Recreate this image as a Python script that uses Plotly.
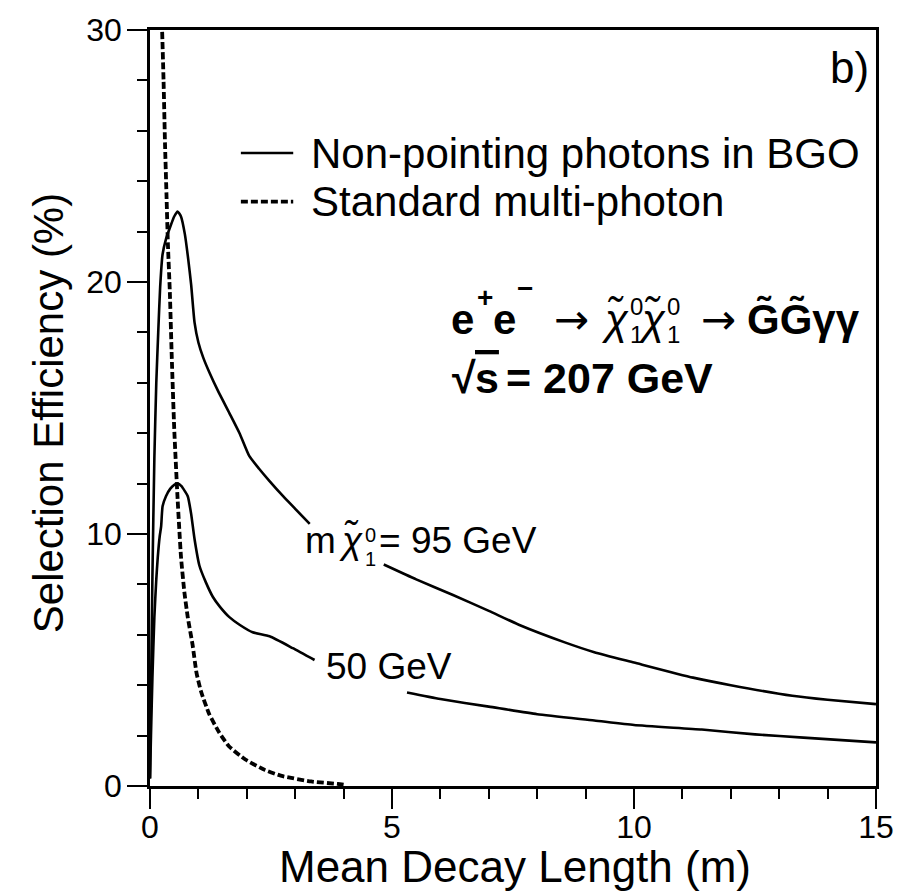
import plotly.graph_objects as go

# Mean decay length (m) vs. selection efficiency (%)
# Non-pointing photons in BGO, m(chi) = 95 GeV (split around its label)
x_95_a = [0.0, 0.02, 0.05, 0.09, 0.13, 0.17, 0.21, 0.26, 0.33, 0.42, 0.50, 0.57, 0.64,
          0.72, 0.79, 0.85, 0.92, 1.00, 1.10, 1.23, 1.40, 1.64, 1.85, 2.05, 2.25, 2.47,
          2.75, 3.00, 3.30]
eff_95_a = [0.3, 3.6, 8.3, 13.0, 16.0, 18.0, 19.8, 21.1, 21.7, 22.2, 22.6, 22.8, 22.6,
            21.9, 20.9, 19.9, 18.4, 17.6, 17.0, 16.4, 15.7, 14.8, 14.0, 13.1, 12.6, 12.1,
            11.5, 11.0, 10.4]
x_95_b = [4.83, 5.5, 6.26, 7.0, 7.62, 8.57, 9.18, 10.0, 11.22, 12.0, 13.27, 14.0, 15.0]
eff_95_b = [8.79, 8.2, 7.58, 6.95, 6.4, 5.7, 5.31, 4.9, 4.3, 4.0, 3.58, 3.42, 3.25]

# Non-pointing photons in BGO, m(chi) = 50 GeV
x_50_a = [0.0, 0.02, 0.05, 0.09, 0.13, 0.16, 0.20, 0.23, 0.26, 0.33, 0.42, 0.50, 0.57,
          0.65, 0.72, 0.78, 0.85, 0.92, 1.02, 1.15, 1.30, 1.45, 1.64, 1.85, 2.12, 2.47,
          2.95, 3.40]
eff_50_a = [0.3, 2.0, 4.3, 6.7, 8.2, 9.06, 9.9, 10.3, 11.1, 11.5, 11.8, 11.95, 12.0,
            11.9, 11.7, 11.5, 10.8, 9.8, 8.75, 8.1, 7.5, 7.1, 6.7, 6.4, 6.1, 5.94,
            5.47, 5.0]
x_50_b = [5.31, 6.0, 7.0, 8.0, 9.18, 10.0, 11.4, 12.5, 13.5, 15.0]
eff_50_b = [3.71, 3.45, 3.15, 2.85, 2.6, 2.42, 2.24, 2.05, 1.92, 1.73]

# Standard multi-photon selection
x_std = [0.22, 0.25, 0.28, 0.31, 0.34, 0.37, 0.41, 0.45, 0.50, 0.57, 0.64, 0.71, 0.78,
         0.88, 0.96, 1.05, 1.22, 1.43, 1.63, 1.97, 2.38, 2.72, 3.33, 3.88, 4.00]
eff_std = [31.5, 30.0, 28.0, 25.5, 23.5, 21.5, 19.6, 17.0, 14.2, 11.4, 9.1, 7.7, 6.7,
           5.6, 4.5, 3.78, 2.87, 2.12, 1.58, 1.05, 0.63, 0.40, 0.18, 0.08, 0.05]

x_ticks = [0, 5, 10, 15]
y_ticks = [0, 10, 20, 30]

FONT = "Liberation Sans, Arial, sans-serif"
ARROW_FONT = "DejaVu Sans, sans-serif"
W, H = 906, 893
L, R, T, B = 150, 885, 24, 786

fig = go.Figure()

solid = dict(color="black", width=2.6, shape="spline", smoothing=0.5)
for xs, ys in [(x_95_a, eff_95_a), (x_95_b, eff_95_b), (x_50_a, eff_50_a), (x_50_b, eff_50_b)]:
    fig.add_trace(go.Scatter(x=xs, y=ys, mode="lines", line=solid,
                             showlegend=False, hoverinfo="skip"))

fig.add_trace(go.Scatter(x=x_std, y=eff_std, mode="lines",
                         line=dict(color="black", width=3.8, dash="7px,3px",
                                   shape="spline", smoothing=0.5),
                         showlegend=False, hoverinfo="skip"))


def px(x):
    return (x - L) / (R - L)


def py(y):
    return (B - y) / (B - T)


def text(s, x, baseline, size, bold=False, anchor="left", family=FONT, pad=1, **font_extra):
    fig.add_annotation(x=px(x), y=py(baseline - 0.35 * size), xref="paper", yref="paper",
                       text=s, showarrow=False, xanchor=anchor, yanchor="middle",
                       borderpad=pad,
                       font=dict(size=size, color="black", family=family,
                                 weight="bold" if bold else "normal", **font_extra))


def chi(x, baseline, size, idx_size, sup_base, sub_base, idx_x):
    # neutralino symbol: italic chi with tilde, then stacked 0 / 1 indices
    text("\u03c7\u0303", x, baseline, size, pad=0, style="italic")
    text("0", idx_x, sup_base, idx_size, pad=0)
    text("1", idx_x, sub_base, idx_size, pad=0)


# legend samples and entries
fig.add_shape(type="line", xref="paper", yref="paper", x0=px(242), x1=px(295),
              y0=py(148), y1=py(148), line=dict(color="black", width=2.6))
fig.add_shape(type="line", xref="paper", yref="paper", x0=px(242), x1=px(295),
              y0=py(197), y1=py(197), line=dict(color="black", width=3.8, dash="7px,3px"))
text("Non-pointing photons in BGO", 311, 163, 42)
text("Standard multi-photon", 311, 212, 42)

# panel tag
text("b)", 836, 77, 44)

# process
text("e", 453, 330, 42, True)
text("+", 479, 303, 28, True)
text("e", 495, 330, 42, True)
text("\u2212", 520, 294, 28, True)
text("\u2192", 557, 331, 42, family=ARROW_FONT)
chi(606, 330, 42, 24, 311, 339, 635)
chi(643, 330, 42, 24, 311, 339, 672)
text("\u2192", 706, 331, 42, family=ARROW_FONT)
text("G\u0303G\u0303\u03b3\u03b3", 752, 330, 42, True)

text("\u221a", 454, 390, 43, True)
text("s", 477, 390, 43, True, lineposition="over")
text("= 207 GeV", 508, 390, 43, True)

# curve labels
text("m", 305, 552, 37)
chi(340, 552, 37, 20, 540, 564, 367)
text("= 95 GeV", 380, 552, 37)
text("50 GeV", 326, 678, 37)

# axis titles
fig.add_annotation(x=px(520), y=py(867), xref="paper", yref="paper",
                   text="Mean Decay Length (m)", showarrow=False,
                   xanchor="center", yanchor="middle",
                   font=dict(size=44, color="black", family=FONT))
fig.add_annotation(x=px(48), y=py(410), xref="paper", yref="paper",
                   text="Selection Efficiency (%)", showarrow=False, textangle=-90,
                   xanchor="center", yanchor="middle",
                   font=dict(size=42, color="black", family=FONT))

axis_common = dict(showgrid=False, zeroline=False, showline=True, linecolor="black",
                   linewidth=2.6, mirror=True, ticks="outside", ticklen=20,
                   tickwidth=2.4, tickcolor="black",
                   tickfont=dict(size=32, color="black", family=FONT))

fig.update_xaxes(range=[0, 15], tickvals=x_ticks, ticklabelstandoff=-9,
                 minor=dict(dtick=1, ticklen=10, tickwidth=2.4, tickcolor="black",
                            ticks="outside"),
                 **axis_common)
fig.update_yaxes(range=[0, 30], tickvals=y_ticks, ticklabelstandoff=-1,
                 minor=dict(dtick=2, ticklen=10, tickwidth=2.4, tickcolor="black",
                            ticks="outside"),
                 **axis_common)

fig.update_layout(width=W, height=H, margin=dict(l=L, r=W - R, t=T, b=H - B),
                  paper_bgcolor="white", plot_bgcolor="white", showlegend=False)

fig.write_html("out.html")
